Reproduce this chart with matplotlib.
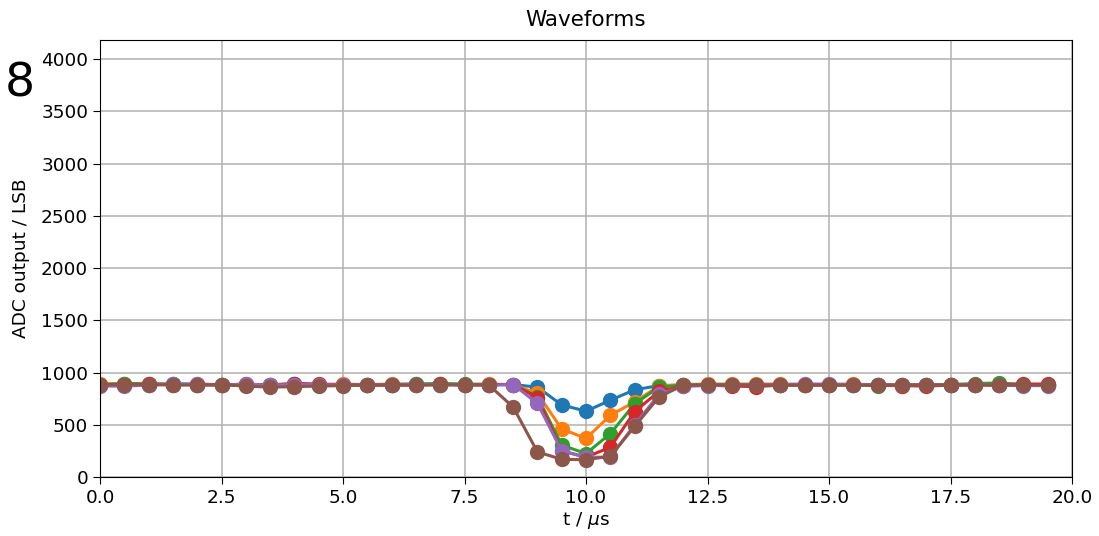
import matplotlib
matplotlib.use("Agg")
import matplotlib.pyplot as plt

# sample times in microseconds
t = [i * 0.5 for i in range(40)]

# ADC output per waveform (LSB)
wave_blue = [880, 890, 885, 890, 885, 880, 885, 880, 890, 885,
             885, 880, 885, 890, 885, 880, 885, 885, 860, 690,
             630, 735, 835, 875, 880, 880, 885, 880, 885, 880,
             885, 880, 885, 880, 885, 880, 885, 880, 885, 880]
wave_orange = [895, 890, 890, 885, 890, 885, 880, 885, 885, 880,
               890, 885, 890, 885, 890, 885, 890, 885, 800, 460,
               370, 590, 720, 870, 885, 890, 890, 890, 890, 885,
               885, 890, 880, 885, 880, 885, 885, 880, 885, 880]
wave_green = [885, 895, 890, 890, 885, 885, 885, 885, 890, 885,
              885, 885, 885, 890, 895, 890, 885, 885, 770, 305,
              225, 415, 700, 860, 880, 885, 885, 885, 880, 885,
              885, 880, 875, 875, 880, 885, 895, 900, 885, 885]
wave_red = [885, 885, 890, 885, 885, 880, 890, 880, 895, 890,
            885, 880, 880, 880, 890, 880, 885, 885, 760, 250,
            190, 285, 625, 820, 870, 880, 870, 865, 880, 880,
            880, 885, 880, 875, 870, 880, 885, 885, 890, 890]
wave_purple = [870, 870, 880, 890, 890, 880, 890, 880, 885, 885,
               880, 885, 880, 885, 885, 885, 880, 885, 705, 250,
               190, 190, 500, 790, 870, 875, 880, 885, 885, 890,
               890, 885, 885, 880, 885, 880, 885, 880, 875, 875]
wave_brown = [880, 885, 885, 880, 880, 885, 870, 860, 865, 870,
              875, 880, 880, 880, 880, 885, 880, 670, 240, 170,
              165, 200, 485, 765, 880, 880, 880, 880, 880, 880,
              880, 880, 880, 880, 880, 880, 880, 880, 880, 880]

waves = [wave_blue, wave_orange, wave_green, wave_red, wave_purple, wave_brown]
colors = ["#1f77b4", "#ff7f0e", "#2ca02c", "#d62728", "#9467bd", "#8c564b"]

plt.rcParams["font.family"] = "DejaVu Sans"
fig = plt.figure(figsize=(10.99, 5.36), dpi=100)
ax = fig.add_axes([0.091, 0.110, 0.8845, 0.815])

for w, c in zip(waves, colors):
    ax.plot(t, w, "-o", color=c, lw=2.2, ms=10)

ax.set_xlim(0, 20)
ax.set_ylim(0, 4180)
ax.set_xticks([0, 2.5, 5, 7.5, 10, 12.5, 15, 17.5, 20])
ax.set_yticks(range(0, 4001, 500))
ax.tick_params(labelsize=13.3, length=5)
ax.grid(True, color="#b0b0b0", lw=1.1)
ax.set_title("Waveforms", fontsize=15.5, pad=10)
ax.set_xlabel("t / $\\mu$s", fontsize=13.3, labelpad=2)
ax.set_ylabel("ADC output / LSB", fontsize=13.3, labelpad=8)

fig.text(0.004, 0.82, "8", fontsize=34)

fig.savefig("out.png", dpi=100)
